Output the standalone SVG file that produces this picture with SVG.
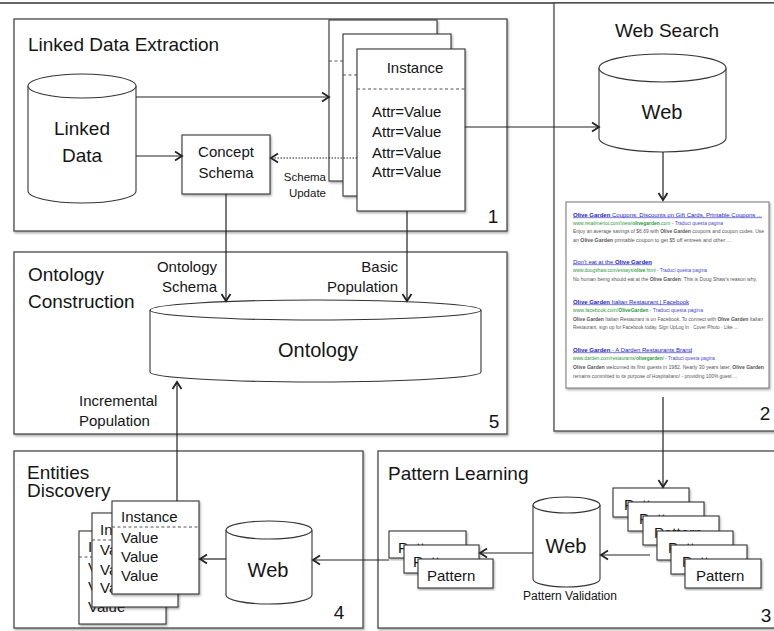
<svg xmlns="http://www.w3.org/2000/svg" width="774" height="631" viewBox="0 0 774 631">
<defs>
<filter id="sh" x="-5%" y="-5%" width="112%" height="115%"><feDropShadow dx="1" dy="1.5" stdDeviation="0.8" flood-color="#000" flood-opacity="0.35"/></filter>
<marker id="ah" markerWidth="12" markerHeight="12" refX="8" refY="6" orient="auto" markerUnits="userSpaceOnUse"><path d="M1,1.5 L8,6 L1,10.5" fill="none" stroke="#222" stroke-width="1.8"/></marker>
</defs>
<style>
.box{fill:#fff;stroke:#4a4a4a;stroke-width:1.3}
.card{fill:#fff;stroke:#333;stroke-width:1.1}
.cyl{fill:#fff;stroke:#333;stroke-width:1.1}
.t{font-family:"Liberation Sans",Arial,sans-serif;fill:#151515}
.ti{font-size:19px}
.l{font-size:15px}
.sm{font-size:11.5px}
.w{font-size:20px}
.dl{stroke:#555;stroke-width:1;stroke-dasharray:3 2.5}
.conn{fill:none;stroke:#222;stroke-width:1.2;marker-end:url(#ah)}
.s{font-family:"Liberation Sans",Arial,sans-serif;font-size:6px}
.st{fill:#2424c4;text-decoration:underline}
.su{fill:#2e9a3e}
.sb{fill:#4848c8}
.sn{fill:#555}
</style>
<line x1="0" y1="3" x2="774" y2="3" stroke="#333" stroke-width="1.5"/>

<g id="box1">
<rect class="box" x="14" y="19" width="493" height="212" filter="url(#sh)"/>
<text class="t ti" x="28" y="51">Linked Data Extraction</text>
<text class="t ti" x="493" y="223" text-anchor="middle">1</text>
</g>
<g id="box5">
<rect class="box" x="14" y="252" width="493" height="182" filter="url(#sh)"/>
<text class="t ti" x="28" y="281">Ontology</text>
<text class="t ti" x="28" y="308">Construction</text>
<text class="t ti" x="494" y="428" text-anchor="middle">5</text>
</g>
<g id="box2">
<rect class="box" x="554" y="3" width="240" height="428" filter="url(#sh)"/>
<text class="t ti" x="667" y="37" text-anchor="middle">Web Search</text>
<text class="t ti" x="765" y="420" text-anchor="middle">2</text>
</g>
<g id="box4">
<rect class="box" x="14" y="451" width="349" height="177" filter="url(#sh)"/>
<text class="t ti" x="27" y="479">Entities</text>
<text class="t ti" x="27" y="497">Discovery</text>
<text class="t ti" x="339" y="619" text-anchor="middle">4</text>
</g>
<g id="box3">
<rect class="box" x="378" y="451" width="406" height="177" filter="url(#sh)"/>
<text class="t ti" x="388" y="480">Pattern Learning</text>
<text class="t ti" x="766" y="622" text-anchor="middle">3</text>
</g>

<g id="linked-data">
<path class="cyl" d="M28,86 L28,191 A54,12 0 0 0 136,191 L136,86"/>
<ellipse class="cyl" cx="82" cy="86" rx="54" ry="12"/>
<text class="t ti" x="82" y="135" text-anchor="middle">Linked</text>
<text class="t ti" x="82" y="162" text-anchor="middle">Data</text>
</g>
<g id="concept-schema">
<rect class="card" x="182" y="135" width="88" height="59" filter="url(#sh)"/>
<text class="t l" x="226" y="157" text-anchor="middle">Concept</text>
<text class="t l" x="226" y="178" text-anchor="middle">Schema</text>
</g>
<g id="instances">
<rect class="card" x="329" y="20" width="108" height="161" filter="url(#sh)"/>
<line class="dl" x1="329" y1="61" x2="437" y2="61"/>
<rect class="card" x="343" y="34" width="108" height="162" filter="url(#sh)"/>
<line class="dl" x1="343" y1="75" x2="451" y2="75"/>
<rect class="card" x="357" y="49" width="108" height="162" filter="url(#sh)"/>
<line class="dl" x1="357" y1="89" x2="465" y2="89"/>
<text class="t l" x="415" y="73" text-anchor="middle">Instance</text>
<text class="t l" x="372" y="117">Attr=Value</text>
<text class="t l" x="372" y="137">Attr=Value</text>
<text class="t l" x="372" y="158">Attr=Value</text>
<text class="t l" x="372" y="177">Attr=Value</text>
</g>
<g id="schema-update-label">
<text class="t sm" x="326" y="181" text-anchor="end">Schema</text>
<text class="t sm" x="326" y="197" text-anchor="end">Update</text>
</g>

<g id="ontology">
<path class="cyl" d="M150,310 L150,372 A165.5,10 0 0 0 481,372 L481,310"/>
<ellipse class="cyl" cx="315.5" cy="310" rx="165.5" ry="10"/>
<text class="t w" x="318" y="357" text-anchor="middle">Ontology</text>
</g>
<g id="onto-labels">
<text class="t l" x="217" y="272" text-anchor="end">Ontology</text>
<text class="t l" x="217" y="292" text-anchor="end">Schema</text>
<text class="t l" x="398" y="272" text-anchor="end">Basic</text>
<text class="t l" x="398" y="292" text-anchor="end">Population</text>
<text class="t l" x="79" y="406">Incremental</text>
<text class="t l" x="79" y="426">Population</text>
</g>

<g id="web-search-db">
<path class="cyl" d="M599,68 L599,138 A63.5,14 0 0 0 726,138 L726,68"/>
<ellipse class="cyl" cx="662.5" cy="68" rx="63.5" ry="14"/>
<text class="t w" x="662" y="119" text-anchor="middle">Web</text>
</g>

<g id="search-results">
<rect x="566" y="202" width="203" height="186" fill="#fff" stroke="#777" stroke-width="1" filter="url(#sh)"/>
<text class="s st" x="573" y="216.5" textLength="189" lengthAdjust="spacingAndGlyphs"><tspan font-weight="bold">Olive Garden</tspan> Coupons: Discounts on Gift Cards, Printable Coupons ...</text>
<text class="s su" x="573" y="224.5" textLength="150" lengthAdjust="spacingAndGlyphs">www.retailmenot.com/view/<tspan font-weight="bold">olivegarden</tspan>.com<tspan class="sb"> - Traduci questa pagina</tspan></text>
<text class="s sn" x="573" y="233" textLength="191" lengthAdjust="spacingAndGlyphs">Enjoy an average savings of $6.69 with <tspan font-weight="bold">Olive Garden</tspan> coupons and coupon codes. Use</text>
<text class="s sn" x="573" y="241.5" textLength="158" lengthAdjust="spacingAndGlyphs">an <tspan font-weight="bold">Olive Garden</tspan> printable coupon to get $5 off entrees and other ...</text>
<text class="s st" x="573" y="263.5" textLength="79" lengthAdjust="spacingAndGlyphs">Don't eat at the <tspan font-weight="bold">Olive Garden</tspan></text>
<text class="s su" x="573" y="272" textLength="134" lengthAdjust="spacingAndGlyphs">www.dougshaw.com/essays/<tspan font-weight="bold">olive</tspan>.html<tspan class="sb"> - Traduci questa pagina</tspan></text>
<text class="s sn" x="573" y="281" textLength="184" lengthAdjust="spacingAndGlyphs">No human being should eat at the <tspan font-weight="bold">Olive Garden</tspan>. This is Doug Shaw's reason why.</text>
<text class="s st" x="573" y="303.5" textLength="116" lengthAdjust="spacingAndGlyphs"><tspan font-weight="bold">Olive Garden</tspan> Italian Restaurant | Facebook</text>
<text class="s su" x="573" y="311.5" textLength="130" lengthAdjust="spacingAndGlyphs">www.facebook.com/<tspan font-weight="bold">OliveGarden</tspan><tspan class="sb"> - Traduci questa pagina</tspan></text>
<text class="s sn" x="573" y="320.5" textLength="190" lengthAdjust="spacingAndGlyphs"><tspan font-weight="bold">Olive Garden</tspan> Italian Restaurant is on Facebook. To connect with <tspan font-weight="bold">Olive Garden</tspan> Italian</text>
<text class="s sn" x="573" y="329" textLength="165" lengthAdjust="spacingAndGlyphs">Restaurant, sign up for Facebook today. Sign UpLog In · Cover Photo · Like ...</text>
<text class="s st" x="573" y="351.5" textLength="119" lengthAdjust="spacingAndGlyphs"><tspan font-weight="bold">Olive Garden</tspan> - A Darden Restaurants Brand</text>
<text class="s su" x="573" y="360" textLength="142" lengthAdjust="spacingAndGlyphs">www.darden.com/restaurants/<tspan font-weight="bold">olivegarden</tspan>/<tspan class="sb"> - Traduci questa pagina</tspan></text>
<text class="s sn" x="573" y="369" textLength="191" lengthAdjust="spacingAndGlyphs"><tspan font-weight="bold">Olive Garden</tspan> welcomed its first guests in 1982. Nearly 30 years later, <tspan font-weight="bold">Olive Garden</tspan></text>
<text class="s sn" x="573" y="377.5" textLength="164" lengthAdjust="spacingAndGlyphs">remains committed to its purpose of Hospitaliano! - providing 100% guest ...</text>
</g>

<g id="patterns-right">
<rect class="card" x="613" y="488" width="76" height="29" filter="url(#sh)"/><text class="t l" x="624" y="510">Pattern</text>
<rect class="card" x="628" y="502" width="76" height="29" filter="url(#sh)"/><text class="t l" x="639" y="524">Pattern</text>
<rect class="card" x="643" y="516" width="76" height="29" filter="url(#sh)"/><text class="t l" x="654" y="538">Pattern</text>
<rect class="card" x="657" y="531" width="76" height="29" filter="url(#sh)"/><text class="t l" x="668" y="553">Pattern</text>
<rect class="card" x="671" y="545" width="76" height="29" filter="url(#sh)"/><text class="t l" x="682" y="567">Pattern</text>
<rect class="card" x="685" y="559" width="76" height="29" filter="url(#sh)"/><text class="t l" x="696" y="581">Pattern</text>
</g>
<g id="web-validation">
<path class="cyl" d="M533,505 L533,579 A33.5,8 0 0 0 600,579 L600,505"/>
<ellipse class="cyl" cx="566.5" cy="505" rx="33.5" ry="8"/>
<text class="t w" x="566" y="553" text-anchor="middle">Web</text>
<text class="t" x="570" y="600" font-size="12" text-anchor="middle">Pattern Validation</text>
</g>
<g id="patterns-left">
<rect class="card" x="389" y="531" width="77" height="27" filter="url(#sh)"/><text class="t l" x="398" y="553">Pattern</text>
<rect class="card" x="404" y="545" width="75" height="28" filter="url(#sh)"/><text class="t l" x="413" y="567">Pattern</text>
<rect class="card" x="418" y="559" width="75" height="29" filter="url(#sh)"/><text class="t l" x="427" y="581">Pattern</text>
</g>

<g id="web-discovery">
<path class="cyl" d="M226,530 L226,595 A43,9 0 0 0 312,595 L312,530"/>
<ellipse class="cyl" cx="269" cy="530" rx="43" ry="9"/>
<text class="t w" x="268" y="577" text-anchor="middle">Web</text>
</g>
<g id="entity-instances">
<rect class="card" x="79" y="531" width="87" height="93" filter="url(#sh)"/>
<text class="t l" x="88" y="552">Instance</text>
<line class="dl" x1="79" y1="557" x2="166" y2="557"/>
<text class="t l" x="88" y="573">Value</text>
<text class="t l" x="88" y="592">Value</text>
<text class="t l" x="88" y="612">Value</text>
<rect class="card" x="92" y="513" width="86" height="94" filter="url(#sh)"/>
<text class="t l" x="100" y="535">Instance</text>
<line class="dl" x1="92" y1="540" x2="178" y2="540"/>
<text class="t l" x="100" y="555">Value</text>
<text class="t l" x="100" y="575">Value</text>
<text class="t l" x="100" y="593">Value</text>
<rect class="card" x="112" y="501" width="87" height="93" filter="url(#sh)"/>
<text class="t l" x="121" y="522">Instance</text>
<line class="dl" x1="112" y1="527" x2="199" y2="527"/>
<text class="t l" x="121" y="543">Value</text>
<text class="t l" x="121" y="562">Value</text>
<text class="t l" x="121" y="581">Value</text>
</g>

<g id="connectors">
<path class="conn" d="M136,97 L329,97"/>
<path class="conn" d="M136,156 L182,156"/>
<path class="conn" d="M357,158 L271,158" stroke-dasharray="1.5 1.5" stroke="#555"/>
<path class="conn" d="M465,127 L599,127"/>
<path class="conn" d="M226,194 L226,301"/>
<path class="conn" d="M407,211 L407,301"/>
<path class="conn" d="M177,501 L177,382"/>
<path class="conn" d="M663,152 L663,200"/>
<path class="conn" d="M663,397 L663,487"/>
<path class="conn" d="M650,555 L601,555"/>
<path class="conn" d="M533,553 L480,553"/>
<path class="conn" d="M389,560 L313,560"/>
<path class="conn" d="M226,559 L200,559"/>
</g>
</svg>
